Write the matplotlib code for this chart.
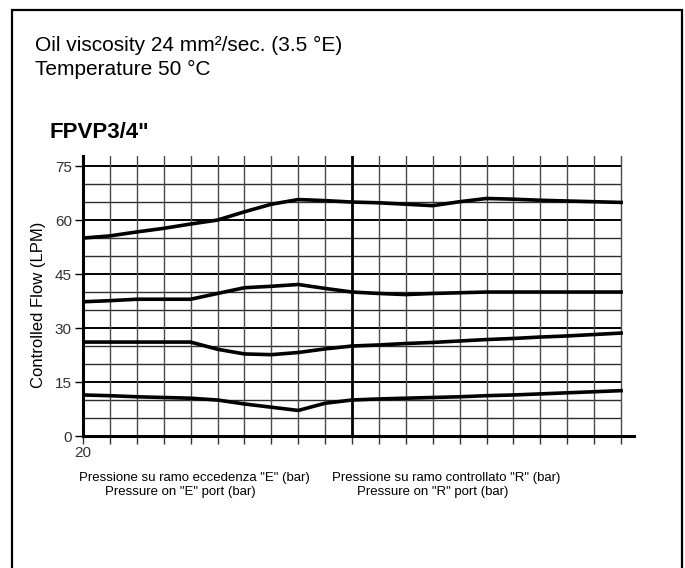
import numpy as np
import matplotlib.pyplot as plt
from matplotlib.patches import Rectangle

plt.rcParams['font.family'] = ['Liberation Sans', 'DejaVu Sans']

# Positions sur la grille (0..10 = ramo "E", 10..20 = ramo "R")
x = np.arange(21)

# Portata controllata (LPM)
flow_65 = [55, 55.6, 56.7, 57.7, 58.9, 60, 62.3, 64.4, 65.7, 65.4, 65.0,
           64.8, 64.4, 64.0, 65.1, 66.0, 65.8, 65.5, 65.3, 65.1, 64.9]
flow_40 = [37.3, 37.6, 38, 38, 38, 39.6, 41.2, 41.6, 42.1, 41.0, 40.0,
           39.6, 39.3, 39.6, 39.8, 40, 40, 40, 40, 40, 40]
flow_25 = [26.1, 26.1, 26.1, 26.1, 26.1, 24.1, 22.8, 22.6, 23.2, 24.2, 25.0,
           25.3, 25.7, 26.0, 26.4, 26.8, 27.1, 27.5, 27.8, 28.2, 28.6]
flow_10 = [11.4, 11.2, 10.9, 10.7, 10.5, 10.0, 8.9, 8.0, 7.1, 9.1, 10.0,
           10.3, 10.5, 10.7, 10.9, 11.2, 11.4, 11.7, 12.0, 12.3, 12.6]

y_ticks = [0, 15, 30, 45, 60, 75]
x_ticklabels = ["20"] + [""] * 20

W, H = 685, 568
fig = plt.figure(figsize=(W / 100, H / 100), dpi=100)

def fx(px):
    return px / W

def fy(py):
    return 1 - py / H

# cadre
fig.patches.append(Rectangle((fx(12), fy(600)), fx(682) - fx(12), fy(10) - fy(600),
                             transform=fig.transFigure, fill=False, lw=1.6,
                             edgecolor='black'))

ax = fig.add_axes([fx(83), fy(436), fx(634) - fx(83), fy(156) - fy(436)])
ax.set_xlim(0, 20.48)
ax.set_ylim(0, 77.8)

# griglia
for yv in range(5, 80, 5):
    if yv % 15 == 0:
        ax.hlines(yv, 0, 20, color='black', lw=1.4, zorder=1)
    else:
        ax.hlines(yv, 0, 20, color='#2e2e2e', lw=1.0, zorder=1)
for xv in x[1:]:
    if xv == 10:
        ax.axvline(xv, color='black', lw=2.0, zorder=1)
    else:
        ax.axvline(xv, color='#4a4a4a', lw=1.0, zorder=1)

for f in (flow_65, flow_40, flow_25, flow_10):
    ax.plot(x, f, color='black', lw=2.6, solid_joinstyle='round', zorder=3)

for s in ('top', 'right'):
    ax.spines[s].set_visible(False)
ax.spines['left'].set_linewidth(2.2)
ax.spines['bottom'].set_linewidth(2.2)

ax.set_yticks(y_ticks)
ax.set_yticklabels([str(v) for v in y_ticks], fontsize=11, color='#333333')
ax.set_xticks(x)
ax.set_xticklabels(x_ticklabels, fontsize=11, color='#333333')
ax.tick_params(axis='y', direction='out', length=6, width=1.0, pad=2)
ax.tick_params(axis='x', direction='out', length=6, width=1.0, pad=1, color='#333333')

# testi
fig.text(fx(35), fy(45), "Oil viscosity 24 mm²/sec. (3.5 °E)", fontsize=15,
         va='center', ha='left')
fig.text(fx(35), fy(69), "Temperature 50 °C", fontsize=15, va='center', ha='left')
fig.text(fx(50), fy(132), 'FPVP3/4"', fontsize=16, fontweight='bold',
         va='center', ha='left')
fig.text(fx(39), fy(305), "Controlled Flow (LPM)", fontsize=12, rotation=90,
         va='center', ha='center')

fig.text(fx(194), fy(478), 'Pressione su ramo eccedenza "E" (bar)', fontsize=9.5,
         ha='center', va='center')
fig.text(fx(180), fy(492), 'Pressure on "E" port (bar)', fontsize=9.5,
         ha='center', va='center')
fig.text(fx(446), fy(478), 'Pressione su ramo controllato "R" (bar)', fontsize=9.5,
         ha='center', va='center')
fig.text(fx(433), fy(492), 'Pressure on "R" port (bar)', fontsize=9.5,
         ha='center', va='center')

fig.savefig("out.png", dpi=100)
